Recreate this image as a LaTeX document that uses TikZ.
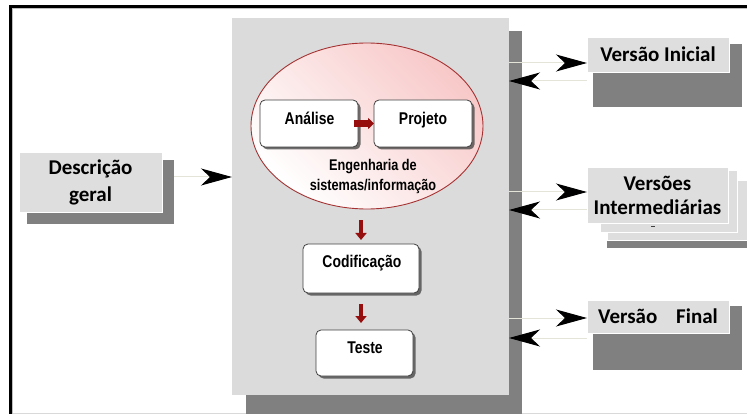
\documentclass[tikz,border=0pt]{standalone}
\usepackage{fontspec}
\setmainfont{Carlito}
\newfontfamily\narrowfont[FakeStretch=0.82]{Liberation Sans}
\usetikzlibrary{arrows.meta,shapes.geometric,shadows,calc}

\definecolor{panelgray}{RGB}{219,219,219}
\definecolor{shadegray}{RGB}{128,128,128}
\definecolor{boxgray}{RGB}{222,222,222}
\definecolor{darkred}{RGB}{150,14,14}
\definecolor{rimred}{RGB}{165,50,50}
\definecolor{pinkfill}{RGB}{248,200,200}
\definecolor{faintline}{RGB}{228,228,216}

\tikzset{
  plate/.style={rectangle, inner sep=0pt, outer sep=0pt},
  graybox/.style={plate, fill=boxgray, draw=white, line width=0.8pt,
    align=center, font=\bfseries\fontsize{21}{24}\selectfont},
  stepbox/.style={plate, rounded corners=5pt, fill=white, draw=black!75,
    line width=0.8pt,
    drop shadow={shadow xshift=2.5pt, shadow yshift=-2.5pt, fill=black!75, opacity=0.75}},
  innertext/.style={font=\narrowfont\bfseries\fontsize{17}{19}\selectfont, inner sep=0pt, anchor=base},
  redarrow/.style={draw=darkred, line width=4pt, -{Triangle[length=7pt,width=11pt]}},
  bigarrow/.style={draw=faintline, line width=1pt,
    -{Stealth[length=31pt,width=17pt,inset=9pt,color=black]}},
}

\begin{document}
\begin{tikzpicture}[x=1pt,y=-1pt]
\useasboundingbox (0,0) rectangle (747,414);

% outer frame
\draw[black!25, line width=1.5pt] (12.5,414) -- (12.5,8.5) -- (747,8.5);
\draw[black, line width=2.6pt] (10.3,414) -- (10.3,6.8) -- (747,6.8);
\draw[black!15, line width=0.8pt] (13,413.2) -- (747,413.2);

% central panel with its shadow
\fill[shadegray] (509,31) rectangle (522,414);
\fill[shadegray] (246,395) rectangle (522,414);
\node[plate, fill=panelgray, minimum width=277pt, minimum height=377pt] (panel) at (370.5,206.5) {};

% engineering ellipse
\node[ellipse, draw=rimred, line width=0.9pt, left color=white, right color=pinkfill,
      shading angle=135, minimum width=232pt, minimum height=166pt, inner sep=0pt]
  (eng) at (367,126) {};
\node[font=\narrowfont\bfseries\fontsize{15.5}{20}\selectfont, align=center, inner sep=0pt]
  (engtxt) at (373,176.5) {Engenharia de\\sistemas/informação};

% process steps
\node[stepbox, minimum width=98pt, minimum height=47pt] (ana) at (309,123.5) {};
\node[innertext] (anatxt) at (309.5,125) {Análise};
\node[stepbox, minimum width=98pt, minimum height=47pt] (proj) at (423,123.5) {};
\node[innertext] (projtxt) at (423,125) {Projeto};
\node[stepbox, minimum width=116pt, minimum height=49pt] (cod) at (361,268.5) {};
\node[innertext] (codtxt) at (362,267.5) {Codificação};
\node[stepbox, minimum width=97pt, minimum height=46pt] (tst) at (364.5,353) {};
\node[innertext] (tsttxt) at (365,353.5) {Teste};

% red flow arrows
\draw[draw=darkred, line width=6.5pt, -{Triangle[length=6pt,width=11pt]}]
  ([xshift=-4pt]ana.east) -- (proj.west);
\draw[redarrow, shorten <=11pt, shorten >=4pt] (cod.north |- eng.south) -- (cod.north);
\draw[redarrow, shorten <=11pt, shorten >=7pt] (cod.south) -- (cod.south |- tst.north);

% general description
\fill[shadegray] (27,160) rectangle (174,224);
\node[graybox, minimum width=143pt, minimum height=60pt] (desc) at (90.5,182)
  {Descrição\\[3pt]geral};
\coordinate (descout) at (174,177);
\draw[bigarrow] (descout) -- (panel.west |- descout);

% initial version
\fill[shadegray] (593,44) rectangle (742,107);
\node[graybox, minimum width=142pt, minimum height=35pt] (vini) at (658,54.5) {Versão Inicial};

% intermediate versions (stack)
\fill[shadegray] (607,240) rectangle (747,248);
\node[graybox, minimum width=143pt, minimum height=60pt] (vint3) at (678.5,210) {};
\node[graybox, minimum width=137pt, minimum height=62pt] (vint2) at (668.5,201) {};
\node[graybox, minimum width=141pt, minimum height=56pt] (vint) at (657.5,195)
  {Versões\\Intermediárias};
\draw[black!75, line width=1.3pt] (651,226.5) -- (655,226.5);

% final version
\fill[shadegray] (593,306) rectangle (742,370);
\node[graybox, minimum width=142pt, minimum height=33pt] (vfin) at (658,316.5)
  {Versão\hspace{0.9em}Final};

% exchanges between the panel and the versions
\coordinate (viout) at (509,63);
\coordinate (viin) at (587,81);
\coordinate (vmout) at (509,192);
\coordinate (vmin) at (587,210);
\coordinate (vfout) at (509,318);
\coordinate (vfin-in) at (587,338);
\draw[bigarrow] (viout) -- (vini.west |- viout);
\draw[bigarrow] (viin) -- (panel.east |- viin);
\draw[bigarrow] (vmout) -- (vint.west |- vmout);
\draw[bigarrow] (vmin) -- (panel.east |- vmin);
\draw[bigarrow] (vfout) -- (vfin.west |- vfout);
\draw[bigarrow] (vfin-in) -- (panel.east |- vfin-in);
\end{tikzpicture}
\end{document}
